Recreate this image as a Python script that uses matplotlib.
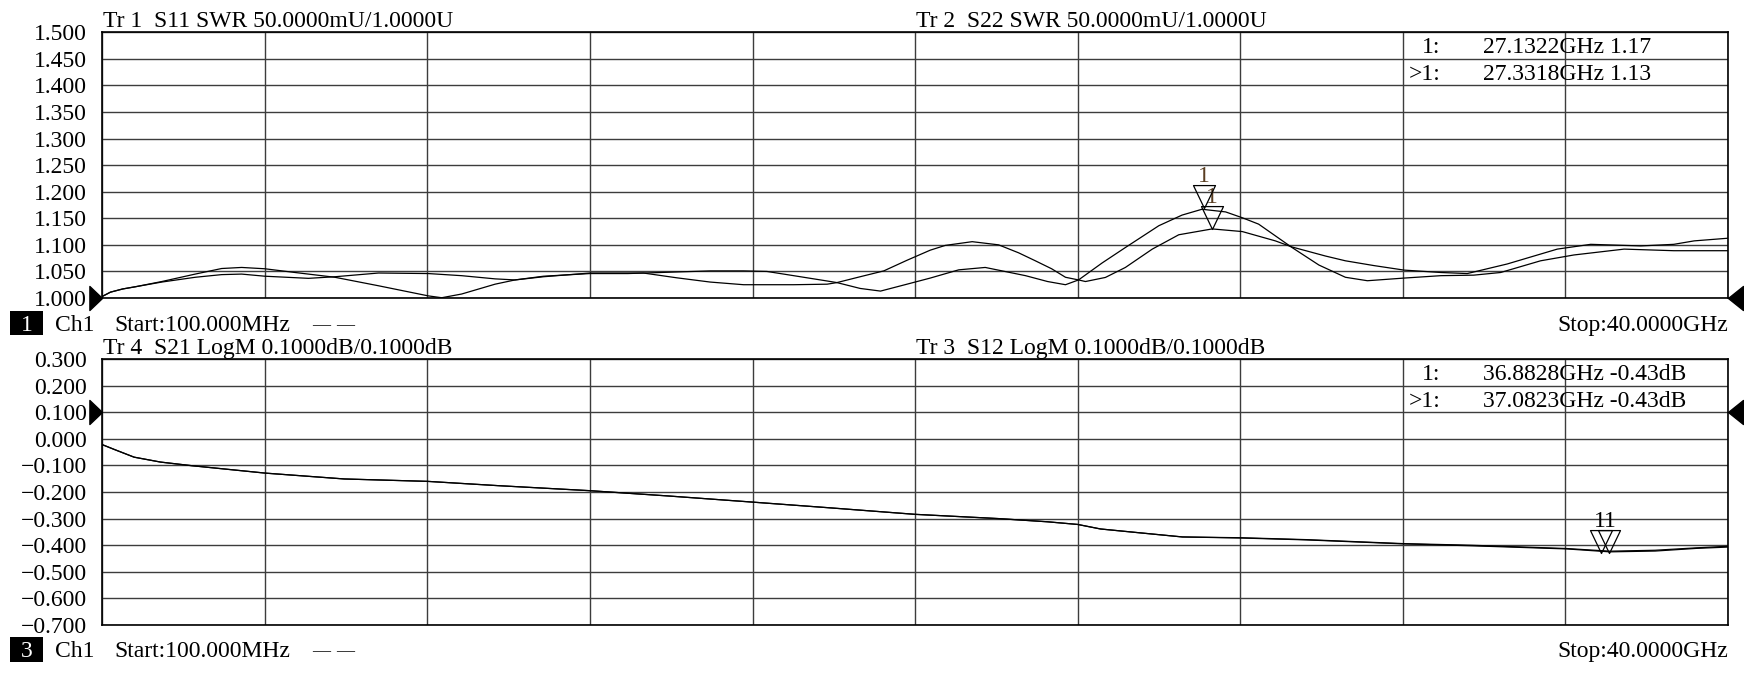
import numpy as np
import matplotlib
matplotlib.use("Agg")
import matplotlib.pyplot as plt
from matplotlib.path import Path
from matplotlib.patches import Rectangle

plt.rcParams['font.family'] = ['Liberation Serif', 'DejaVu Serif']

W, H = 1744, 673
FS = 17

start_ghz = 0.1
stop_ghz = 40.0

# ---- channel 1 : SWR (S11 / S22) ----
s11_freq = [0.1, 0.3, 0.6, 0.9, 1.56, 2.38, 3.03, 3.52, 4.09, 4.83, 5.81, 6.88, 8.1, 8.43,
            8.92, 9.74, 10.23, 10.93, 12.07, 13.0, 14.2, 15.02, 15.84, 16.41, 17.07, 17.89,
            18.13, 18.7, 19.2, 19.8, 20.42, 21.12, 21.77, 22.76, 23.3, 23.74, 24.06, 24.64,
            25.21, 26.03, 26.6, 27.09, 27.67, 28.08, 28.48, 29.3, 29.96, 30.61, 31.15, 32.05,
            32.95, 33.76, 34.42, 35.4, 36.22, 37.45, 38.67, 40.0]
s11_swr = [1.003, 1.011, 1.017, 1.021, 1.031, 1.045, 1.0555, 1.0575, 1.055, 1.048, 1.039, 1.023,
           1.004, 1.0005, 1.0075, 1.026, 1.034, 1.041, 1.046, 1.046, 1.049, 1.051, 1.051, 1.050,
           1.042, 1.032, 1.029, 1.018, 1.013, 1.025, 1.0375, 1.053, 1.0575, 1.042, 1.031, 1.025,
           1.034, 1.066, 1.095, 1.136, 1.156, 1.167, 1.162, 1.151, 1.139, 1.095, 1.062, 1.039,
           1.0325, 1.0375, 1.042, 1.043, 1.048, 1.070, 1.081, 1.092, 1.089, 1.089]

s22_freq = [0.1, 0.3, 0.6, 0.9, 1.56, 2.38, 3.03, 3.52, 4.09, 5.16, 5.81, 6.88, 8.1, 8.92,
            9.74, 10.23, 10.93, 12.07, 13.38, 14.2, 15.02, 15.84, 17.07, 17.89, 18.13, 18.7,
            19.28, 19.85, 20.42, 20.79, 21.45, 22.1, 22.59, 23.0, 23.4, 23.74, 24.06, 24.23,
            24.72, 25.21, 25.87, 26.52, 27.34, 28.08, 28.89, 29.3, 30.12, 30.61, 31.31, 32.05,
            32.95, 33.6, 34.58, 35.81, 36.63, 37.86, 38.67, 39.17, 40.0]
s22_swr = [1.003, 1.011, 1.017, 1.021, 1.030, 1.039, 1.044, 1.045, 1.041, 1.037, 1.040, 1.047,
           1.046, 1.042, 1.036, 1.034, 1.040, 1.047, 1.047, 1.038, 1.030, 1.025, 1.025, 1.026,
           1.029, 1.040, 1.051, 1.071, 1.090, 1.099, 1.106, 1.100, 1.085, 1.070, 1.055, 1.039,
           1.034, 1.031, 1.0387, 1.0575, 1.092, 1.119, 1.130, 1.125, 1.1075, 1.096, 1.079, 1.070,
           1.061, 1.0525, 1.048, 1.046, 1.064, 1.092, 1.101, 1.098, 1.101, 1.1075, 1.1125]

swr_ticks = [1.500, 1.450, 1.400, 1.350, 1.300, 1.250, 1.200, 1.150, 1.100, 1.050, 1.000]
swr_labels = ["1.500", "1.450", "1.400", "1.350", "1.300", "1.250", "1.200", "1.150",
              "1.100", "1.050", "1.000"]
swr_ref = 1.000

swr_mk_freq = [27.1322, 27.3318]
swr_mk_val = [1.17, 1.13]

# ---- channel 3 : LogM (S21 / S12) ----
s21_freq = [0.1, 0.41, 0.88, 1.53, 2.29, 4.1, 6.04, 8.08, 9.8, 12.06, 14.0, 16.06, 18.0,
            20.05, 22.1, 23.3, 24.04, 24.6, 25.6, 26.61, 28.06, 29.64, 32.03, 33.67, 36.04,
            37.1, 38.21, 39.22, 40.0]
s21_db = [-0.022, -0.041, -0.069, -0.0875, -0.101, -0.129, -0.151, -0.160, -0.176, -0.195,
          -0.215, -0.238, -0.260, -0.284, -0.300, -0.312, -0.322, -0.339, -0.354, -0.369,
          -0.372, -0.379, -0.394, -0.400, -0.4125, -0.4225, -0.419, -0.410, -0.404]
s12_freq = s21_freq
s12_db = [-0.022, -0.041, -0.069, -0.0875, -0.101, -0.129, -0.151, -0.160, -0.176, -0.195,
          -0.215, -0.238, -0.260, -0.284, -0.300, -0.312, -0.322, -0.339, -0.354, -0.369,
          -0.373, -0.380, -0.395, -0.402, -0.414, -0.425, -0.422, -0.412, -0.407]

db_ticks = [0.3, 0.2, 0.1, 0.0, -0.1, -0.2, -0.3, -0.4, -0.5, -0.6, -0.7]
db_labels = ["0.300", "0.200", "0.100", "0.000", "\u22120.100", "\u22120.200", "\u22120.300",
             "\u22120.400", "\u22120.500", "\u22120.600", "\u22120.700"]
db_ref = 0.100

db_mk_freq = [36.8828, 37.0823]
db_mk_val = [-0.43, -0.43]

top_headers = ["Tr 1  S11 SWR 50.0000mU/1.0000U", "Tr 2  S22 SWR 50.0000mU/1.0000U"]
bot_headers = ["Tr 4  S21 LogM 0.1000dB/0.1000dB", "Tr 3  S12 LogM 0.1000dB/0.1000dB"]
top_readout = [("1:", "27.1322GHz 1.17"), (">1:", "27.3318GHz 1.13")]
bot_readout = [("1:", "36.8828GHz -0.43dB"), (">1:", "37.0823GHz -0.43dB")]

# marker shapes, apex at the data point
down_tri = Path([(-0.48, 1.0), (0.48, 1.0), (0.0, 0.0), (-0.48, 1.0)],
                [Path.MOVETO, Path.LINETO, Path.LINETO, Path.CLOSEPOLY])
right_tri = Path([(-12.6, -12), (-12.6, 12), (0, 0), (-12.6, -12)],
                 [Path.MOVETO, Path.LINETO, Path.LINETO, Path.CLOSEPOLY])
left_tri = Path([(15, -12), (15, 12), (0, 0), (15, -12)],
                [Path.MOVETO, Path.LINETO, Path.LINETO, Path.CLOSEPOLY])

fig = plt.figure(figsize=(W / 100, H / 100), dpi=100)

L, R = 102.3, 1728.0


def fx(x):
    return x / W


def fy(y):
    return 1 - y / H


def panel(top, bottom, ylim, ticks, labels, ref):
    ax = fig.add_axes([fx(L), fy(bottom), (R - L) / W, (bottom - top) / H])
    ax.set_xlim(start_ghz, stop_ghz)
    ax.set_ylim(*ylim)
    ax.set_xticks(np.linspace(start_ghz, stop_ghz, 11))
    ax.set_xticklabels([])
    ax.set_yticks(ticks)
    ax.set_yticklabels(labels, fontsize=FS)
    ax.tick_params(length=0, pad=11)
    ax.grid(True, color='#3c3c3c', lw=1.0)
    for s in ax.spines.values():
        s.set_color('black')
        s.set_linewidth(1.2)
    ax.plot([start_ghz], [ref], ls='none', marker=right_tri, ms=18.15, color='black',
            clip_on=False, zorder=5)
    ax.plot([stop_ghz], [ref], ls='none', marker=left_tri, ms=21.6, color='black',
            clip_on=False, zorder=5)
    return ax


ax1 = panel(32.3, 298.0, (1.0, 1.5), swr_ticks, swr_labels, swr_ref)
ax1.plot(s11_freq, s11_swr, color='black', lw=0.9)
ax1.plot(s22_freq, s22_swr, color='black', lw=0.9)
ax1.plot(swr_mk_freq, swr_mk_val, ls='none', marker=down_tri, ms=33, mfc='none',
         mec='black', mew=0.9, zorder=4)
for f, v in zip(swr_mk_freq, swr_mk_val):
    ax1.annotate('1', (f, v), xytext=(0, 18.7), textcoords='offset points', ha='center',
                 va='baseline', fontsize=FS, color='#5a3e22')

ax2 = panel(359.0, 625.0, (-0.7, 0.3), db_ticks, db_labels, db_ref)
ax2.plot(s21_freq, s21_db, color='black', lw=0.9)
ax2.plot(s12_freq, s12_db, color='black', lw=0.9)
ax2.plot(db_mk_freq, db_mk_val, ls='none', marker=down_tri, ms=33, mfc='none',
         mec='black', mew=0.9, zorder=4)
# both marker numbers sit side by side, written as one label
ax2.annotate('11', (np.mean(db_mk_freq), db_mk_val[0]), xytext=(0, 19.2),
             textcoords='offset points', ha='center', va='baseline', fontsize=FS,
             color='black')

# headers, readouts and footers
for dy, heads, reads, num in [(0, top_headers, top_readout, "1"),
                              (326.7, bot_headers, bot_readout, "3")]:
    fig.text(fx(102.6), fy(27.3 + dy), heads[0], fontsize=FS, va='baseline')
    fig.text(fx(915.5), fy(27.3 + dy), heads[1], fontsize=FS, va='baseline')
    for i, (tag, val) in enumerate(reads):
        yb = 53.0 + dy + i * 27.5
        fig.text(fx(1440), fy(yb), tag, fontsize=FS, va='baseline', ha='right')
        fig.text(fx(1482.8), fy(yb), val, fontsize=FS, va='baseline')
    yb = 330.7 + dy
    fig.patches.append(Rectangle((fx(9.6), fy(335.0 + dy)), 33.6 / W, 24.3 / H,
                                 transform=fig.transFigure, fc='black', ec='none'))
    fig.text(fx(26.4), fy(yb), num, fontsize=FS, va='baseline', ha='center', color='white')
    fig.text(fx(55.5), fy(yb), "Ch1", fontsize=FS, va='baseline')
    fig.text(fx(114), fy(yb), "Start:100.000MHz", fontsize=FS, va='baseline')
    fig.text(fx(312), fy(yb - 1), "\u2014", fontsize=13, va='baseline')
    fig.text(fx(336), fy(yb - 1), "\u2014", fontsize=13, va='baseline')
    fig.text(fx(1728), fy(yb), "Stop:40.0000GHz", fontsize=FS, va='baseline', ha='right')

fig.savefig("out.png", dpi=100)
